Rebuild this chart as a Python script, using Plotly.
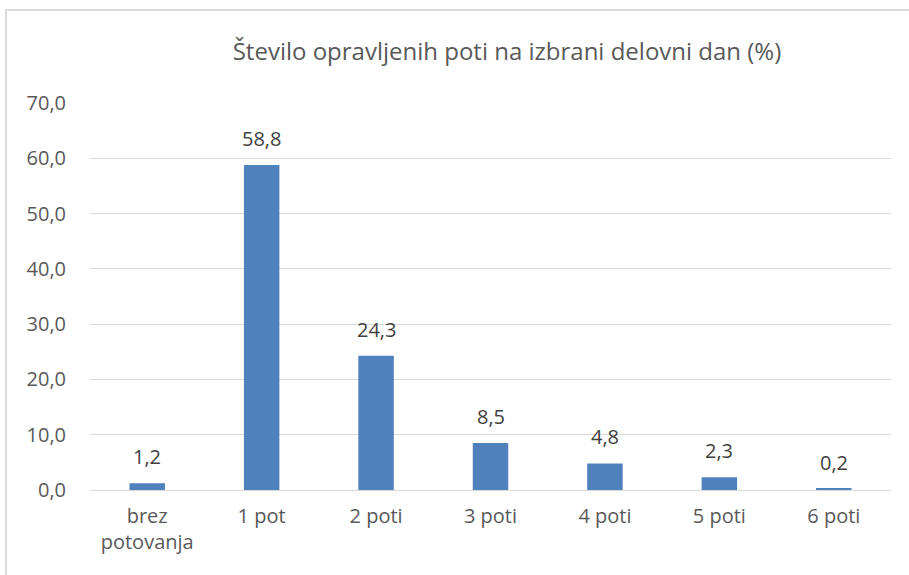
import plotly.graph_objects as go

categories = ["brez<br>potovanja", "1 pot", "2 poti", "3 poti", "4 poti", "5 poti", "6 poti"]
values = [1.2, 58.8, 24.3, 8.5, 4.8, 2.3, 0.2]
labels = [f"{v:.1f}".replace(".", ",") for v in values]
title = "Število opravljenih poti na izbrani delovni dan (%)"

W, H = 909, 575
L, R, T, B = 90, 18, 103, 85
pw, ph = W - L - R, H - T - B
FONT = "Open Sans"

fig = go.Figure(go.Bar(
    x=categories, y=values,
    marker=dict(color="#4F81BD", line=dict(width=0)),
    hoverinfo="x+y",
))

annotations = [
    dict(x=c, y=v, text=t, xref="x", yref="y", showarrow=False,
         yanchor="bottom", yshift=11, font=dict(size=20, color="#404040", family=FONT))
    for c, v, t in zip(categories, values, labels)
]

fig.update_layout(
    width=W, height=H,
    margin=dict(l=L, r=R, t=T, b=B),
    paper_bgcolor="white", plot_bgcolor="white",
    bargap=0.69,
    separators=", ",
    font=dict(family=FONT, color="#595959"),
    title=dict(text=title, x=(507 - L) / pw, xref="paper", xanchor="center", y=1 - 52 / H, yanchor="middle",
               font=dict(size=24, color="#595959", family=FONT)),
    xaxis=dict(showgrid=False, showline=False, ticks="", tickfont=dict(size=20, color="#595959"),
               ticklabelstandoff=12),
    yaxis=dict(range=[0, 70], dtick=10, tickformat=".1f", showgrid=True, gridcolor="#D9D9D9",
               gridwidth=1, zeroline=True, zerolinecolor="#D9D9D9", zerolinewidth=1,
               showline=False, ticks="", tickfont=dict(size=20, color="#595959"), ticklabelstandoff=23),
    showlegend=False,
    annotations=annotations,
    shapes=[dict(type="rect", xref="paper", yref="paper",
                 x0=(6 - L) / pw, x1=(W + 20 - L) / pw,
                 y0=-(H + 20 - (T + ph)) / ph, y1=1 + (T - 10) / ph,
                 line=dict(color="#D9D9D9", width=2), layer="below")],
)

fig.write_html("out.html", config={"displayModeBar": False},
               post_script="document.body.style.margin='0';")
